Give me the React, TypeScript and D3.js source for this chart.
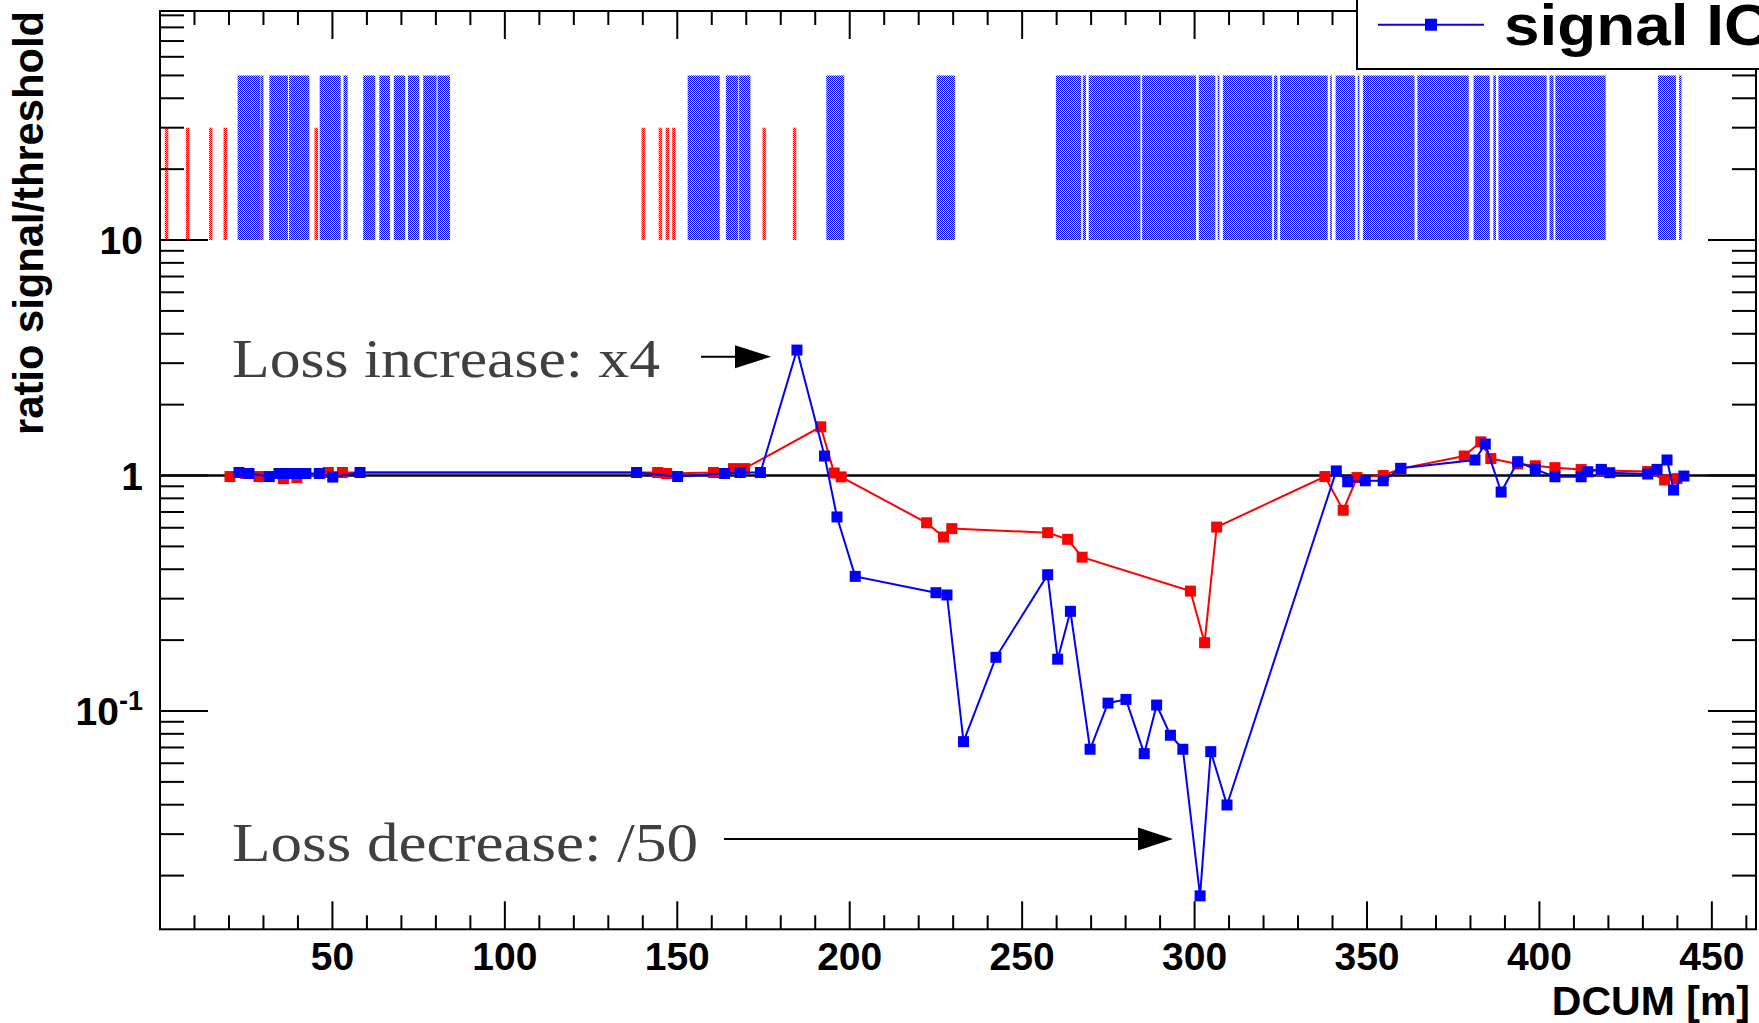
import React from 'react';
import * as d3 from 'd3';

const W = 1759;
const H = 1023;

// ---- data ----
const blueDcum = [22.9, 25.8, 31.7, 34.5, 37.1, 39.7, 42.3, 46.2, 50.1, 58.0, 138.2, 150.1, 163.7, 168.2, 174.1, 184.7, 192.7, 196.3, 201.6, 225.0, 228.2, 233.0, 242.4, 257.4, 260.3, 264.0, 269.7, 274.9, 280.1, 285.4, 289.0, 293.0, 296.6, 301.6, 304.7, 309.4, 341.1, 344.4, 349.5, 354.7, 359.8, 381.3, 384.3, 388.9, 393.7, 398.8, 404.5, 412.1, 414.0, 417.9, 420.4, 431.4, 434.1, 437.0, 438.9, 441.9];
const blueRatio = [1.03, 1.02, 0.99, 1.02, 1.02, 1.02, 1.02, 1.02, 0.985, 1.03, 1.03, 0.99, 1.02, 1.03, 1.03, 3.41, 1.21, 0.667, 0.373, 0.318, 0.311, 0.0741, 0.169, 0.379, 0.166, 0.265, 0.0688, 0.108, 0.112, 0.0659, 0.106, 0.0789, 0.0688, 0.0164, 0.0672, 0.0399, 1.046, 0.941, 0.95, 0.95, 1.073, 1.164, 1.36, 0.851, 1.145, 1.062, 0.988, 0.988, 1.038, 1.062, 1.028, 1.015, 1.062, 1.164, 0.868, 0.995];

const redDcum = [20.3, 24.9, 28.7, 35.8, 39.7, 48.8, 52.9, 144.3, 146.9, 160.5, 166.3, 169.5, 191.6, 195.5, 197.5, 222.3, 227.2, 229.6, 257.4, 263.2, 267.4, 298.8, 302.9, 306.4, 337.8, 343.1, 347.1, 354.7, 359.8, 378.2, 383.0, 385.9, 393.7, 398.8, 404.5, 412.1, 418.0, 431.4, 436.3, 439.9];
const redRatio = [0.99, 1.02, 0.99, 0.97, 0.98, 1.03, 1.03, 1.03, 1.02, 1.03, 1.07, 1.07, 1.61, 1.025, 0.987, 0.63, 0.548, 0.595, 0.572, 0.536, 0.45, 0.323, 0.195, 0.604, 0.99, 0.712, 0.98, 1.0, 1.07, 1.21, 1.39, 1.18, 1.12, 1.1, 1.08, 1.06, 1.05, 1.04, 0.957, 0.97];

const blueBarStart = [22.5, 29.2, 31.7, 37.4, 46.3, 53.2, 58.9, 63.6, 67.8, 71.9, 76.3, 80.5, 153.0, 164.1, 167.9, 193.2, 225.2, 259.8, 267.6, 269.3, 284.8, 301.2, 306.7, 308.2, 323.0, 324.8, 339.3, 340.9, 347.3, 348.8, 364.6, 380.9, 386.6, 388.1, 402.9, 404.6, 434.4, 440.5];
const blueBarEnd = [29.1, 30.0, 37.1, 43.3, 52.4, 54.4, 62.4, 66.7, 71.1, 75.2, 80.2, 84.1, 162.3, 167.7, 171.2, 198.4, 230.5, 267.1, 268.5, 284.3, 300.4, 306.0, 307.2, 322.5, 324.0, 338.6, 339.8, 346.5, 347.8, 363.8, 379.5, 385.6, 387.4, 402.1, 404.1, 419.2, 439.6, 441.2];
const blueBarLow = 10;
const blueBarHigh = 50;

const redBarPos = [1.9, 8.0, 14.7, 18.9, 29.3, 32.1, 45.3, 140.1, 145.1, 147.1, 149.0, 161.0, 175.2, 184.0];
const redBarLow = 10;
const redBarHigh = 30;

const xTickLabels = [50, 100, 150, 200, 250, 300, 350, 400, 450];
const yMajorTicks = [0.1, 1, 10];
const xDomain = [0, 462.8];
const yDomain = [0.01183, 93.9];

const legendLabel = 'signal IC';
const xTitle = 'DCUM [m]';
const yTitle = 'ratio signal/threshold';
const noteUp = 'Loss increase: x4';
const noteDown = 'Loss decrease: /50';

const SANS = '"Liberation Sans", Arial, Helvetica, sans-serif';
const SERIF = '"Liberation Serif", "DejaVu Serif", serif';

export default function App() {
  const left = 160, right = 1756, top = 11, bottom = 929.3;
  const x = d3.scaleLinear().domain(xDomain).range([left, right]);
  const y = d3.scaleLog().domain(yDomain).range([bottom, top]);

  const xMinor = d3.range(10, 461, 10).filter((v) => v % 50 !== 0);
  const yMinor: number[] = [];
  [0.01, 0.1, 1, 10].forEach((d) => {
    for (let k = 2; k <= 9; k++) {
      const v = k * d;
      if (v > yDomain[0] && v < yDomain[1]) yMinor.push(v);
    }
  });

  const line = d3.line<[number, number]>().x((d) => x(d[0])).y((d) => y(d[1]));
  const blue: [number, number][] = blueDcum.map((d, i) => [d, blueRatio[i]]);
  const red: [number, number][] = redDcum.map((d, i) => [d, redRatio[i]]);
  const ms = 11;

  const majLenX = 28, minLenX = 14, majLenY = 48, minLenY = 24;

  return (
    <svg width={W} height={H} style={{ position: 'absolute', left: 0, top: 0, background: '#fff' }}>
      <defs>
        <pattern id="pb" width="2" height="2" patternUnits="userSpaceOnUse">
          <rect x="0" y="0" width="2" height="2" fill="#c4c4ff" />
          <rect x="0" y="0" width="1" height="1" fill="#0000ff" />
          <rect x="1" y="1" width="1" height="1" fill="#0000ff" />
        </pattern>
        <pattern id="pr" width="2" height="2" patternUnits="userSpaceOnUse">
          <rect x="0" y="0" width="2" height="2" fill="#ffb0b0" />
          <rect x="0" y="0" width="1" height="1" fill="#ff0000" />
          <rect x="1" y="1" width="1" height="1" fill="#ff0000" />
        </pattern>
      </defs>
      <rect x={0} y={0} width={W} height={H} fill="#fff" />

      {/* bars */}
      {redBarPos.map((p, i) => (
        <rect key={'rb' + i} x={x(p - 0.5)} y={y(redBarHigh)} width={x(p + 0.5) - x(p - 0.5)} height={y(redBarLow) - y(redBarHigh)} fill="url(#pr)" />
      ))}
      {blueBarStart.map((s, i) => (
        <rect key={'bb' + i} x={x(s)} y={y(blueBarHigh)} width={x(blueBarEnd[i]) - x(s)} height={y(blueBarLow) - y(blueBarHigh)} fill="url(#pb)" />
      ))}

      {/* reference line at 1 */}
      <line x1={left} x2={right} y1={y(1)} y2={y(1)} stroke="#000" strokeWidth={2.5} />

      {/* curves */}
      <path d={line(red) || ''} fill="none" stroke="#ff0000" strokeWidth={2} />
      {red.map((d, i) => (
        <rect key={'rm' + i} x={x(d[0]) - ms / 2} y={y(d[1]) - ms / 2} width={ms} height={ms} fill="#ff0000" />
      ))}
      <path d={line(blue) || ''} fill="none" stroke="#0000ff" strokeWidth={2} />
      {blue.map((d, i) => (
        <rect key={'bm' + i} x={x(d[0]) - ms / 2} y={y(d[1]) - ms / 2} width={ms} height={ms} fill="#0000ff" />
      ))}

      {/* frame */}
      <rect x={left} y={top} width={right - left} height={bottom - top} fill="none" stroke="#000" strokeWidth={2} />

      {/* x ticks bottom & top */}
      {xTickLabels.map((v) => (
        <g key={'xt' + v}>
          <line x1={x(v)} x2={x(v)} y1={bottom} y2={bottom - majLenX} stroke="#000" strokeWidth={2} />
          <line x1={x(v)} x2={x(v)} y1={top} y2={top + majLenX} stroke="#000" strokeWidth={2} />
          <text x={x(v)} y={970} textAnchor="middle" fontFamily={SANS} fontWeight="bold" fontSize={39}>{v}</text>
        </g>
      ))}
      {xMinor.map((v) => (
        <g key={'xm' + v}>
          <line x1={x(v)} x2={x(v)} y1={bottom} y2={bottom - minLenX} stroke="#000" strokeWidth={2} />
          <line x1={x(v)} x2={x(v)} y1={top} y2={top + minLenX} stroke="#000" strokeWidth={2} />
        </g>
      ))}

      {/* y ticks left & right */}
      {yMajorTicks.map((v) => (
        <g key={'yt' + v}>
          <line x1={left} x2={left + majLenY} y1={y(v)} y2={y(v)} stroke="#000" strokeWidth={2} />
          <line x1={right} x2={right - majLenY} y1={y(v)} y2={y(v)} stroke="#000" strokeWidth={2} />
        </g>
      ))}
      {yMinor.map((v) => (
        <g key={'ym' + v}>
          <line x1={left} x2={left + minLenY} y1={y(v)} y2={y(v)} stroke="#000" strokeWidth={2} />
          <line x1={right} x2={right - minLenY} y1={y(v)} y2={y(v)} stroke="#000" strokeWidth={2} />
        </g>
      ))}
      <text x={143} y={y(10) + 14} textAnchor="end" fontFamily={SANS} fontWeight="bold" fontSize={39}>10</text>
      <text x={143} y={y(1) + 14} textAnchor="end" fontFamily={SANS} fontWeight="bold" fontSize={39}>1</text>
      <text x={143} y={y(0.1) + 14} textAnchor="end" fontFamily={SANS} fontWeight="bold" fontSize={39}>
        10<tspan dy={-15} fontSize={27}>-1</tspan>
      </text>

      {/* axis titles */}
      <text x={1750} y={1015} textAnchor="end" fontFamily={SANS} fontWeight="bold" fontSize={41}>{xTitle}</text>
      <text transform={`translate(43, ${top}) rotate(-90)`} textAnchor="end" fontFamily={SANS} fontWeight="bold" fontSize={42} textLength={424} lengthAdjust="spacingAndGlyphs">{yTitle}</text>

      {/* annotations */}
      <text x={232} y={377} fontFamily={SERIF} fontSize={55} fill="#404040" textLength={428} lengthAdjust="spacingAndGlyphs">{noteUp}</text>
      <line x1={701} x2={740} y1={356.7} y2={356.7} stroke="#000" strokeWidth={2} />
      <path d={`M735,${356.7 - 11.5} L771,356.7 L735,${356.7 + 11.5} Z`} fill="#000" />

      <text x={232} y={861} fontFamily={SERIF} fontSize={55} fill="#404040" textLength={466} lengthAdjust="spacingAndGlyphs">{noteDown}</text>
      <line x1={724} x2={1145} y1={839} y2={839} stroke="#000" strokeWidth={2} />
      <path d={`M1138,${839 - 11.5} L1173,839 L1138,${839 + 11.5} Z`} fill="#000" />

      {/* legend (cut by the canvas edge, as in the original) */}
      <rect x={1357} y={-10} width={500} height={79} fill="#fff" stroke="#000" strokeWidth={2} />
      <line x1={1378} x2={1484} y1={24.7} y2={24.7} stroke="#0000ff" strokeWidth={2} />
      <rect x={1431 - 6} y={24.7 - 6} width={12} height={12} fill="#0000ff" />
      <text transform="translate(1504, 45) scale(1.12, 1)" fontFamily={SANS} fontWeight="bold" fontSize={57}>{legendLabel}</text>
    </svg>
  );
}
